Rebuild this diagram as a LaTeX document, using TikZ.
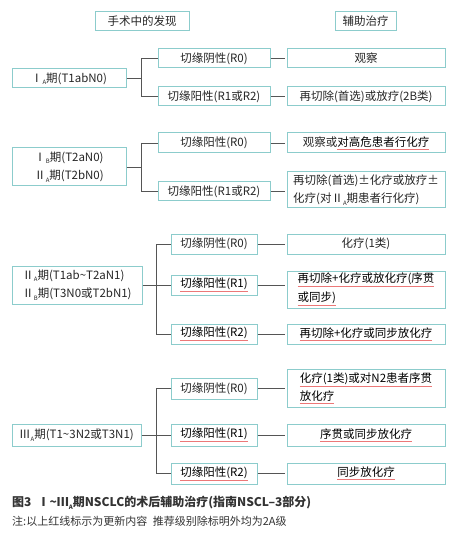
\documentclass[tikz,border=0pt]{standalone}
\usepackage{fontspec}
\setmainfont{Noto Sans CJK SC}
\usepackage{tikz}

\definecolor{boxedge}{RGB}{140,204,204}
\definecolor{linkgray}{RGB}{85,85,85}
\definecolor{redmark}{RGB}{236,120,120}
\newcommand{\stsub}[1]{\raisebox{-0.4ex}{\fontsize{6}{6}\selectfont #1}}
\newcommand{\redul}[1]{{\color{redmark}\underline{\color{black}#1}}}

\begin{document}
\begin{tikzpicture}[x=1pt,y=-1pt,
  card/.style={draw=boxedge,line width=1pt,fill=white,inner sep=2pt,
    font=\fontsize{11.5}{18.5}\selectfont,text=black!85},
  head/.style={card,minimum height=19pt},
  stage/.style={card,minimum height=19pt},
  margin/.style={card,minimum width=112pt,minimum height=19pt},
  marginb/.style={card,minimum width=86pt,minimum height=20pt},
  therapy/.style={card,minimum width=158pt,minimum height=19pt},
  therapyl/.style={therapy,align=left},
  link/.style={draw=linkgray,line width=0.9pt}]
  \useasboundingbox (0,0) rectangle (461,534);

  % headings
  \node[head,minimum width=94pt] (h1) at (142,21.5) {手术中的发现};
  \node[head,minimum width=61pt] (h2) at (365.5,21.5) {辅助治疗};

  % stage IA
  \node[stage,minimum width=114pt] (s1) at (69,78.5) {Ⅰ\stsub{A}期(T1abN0)};
  \node[margin] (m1a) at (214,58.5) {切缘阴性(R0)};
  \node[margin] (m1b) at (214,96.5) {切缘阳性(R1或R2)};
  \node[therapy] (t1a) at (366,58.5) {观察};
  \node[therapy] (t1b) at (366,96.5) {再切除(首选)或放疗(2B类)};
  \coordinate (k1) at (141,78.5);

  % stage IB / IIA
  \node[stage,minimum width=114pt,minimum height=38pt,align=center] (s2) at (69,167)
    {Ⅰ\stsub{B}期(T2aN0)\\Ⅱ\stsub{A}期(T2bN0)};
  \node[margin,minimum height=20pt] (m2a) at (214,143) {切缘阳性(R0)};
  \node[margin] (m2b) at (214,191.5) {切缘阳性(R1或R2)};
  \node[therapy,minimum height=20pt] (t2a) at (366,143) {观察或\redul{对高危患者行化疗}};
  \node[therapyl,minimum height=36pt] (t2b) at (366,190)
    {再切除(首选)±化疗或放疗±\\化疗(对Ⅱ\stsub{A}期患者行化疗)};
  \coordinate (k2) at (141,167);

  % stage IIA / IIB
  \node[stage,minimum width=130pt,minimum height=38pt,align=left] (s3) at (77,285)
    {Ⅱ\stsub{A}期(T1ab\textasciitilde T2aN1)\\Ⅱ\stsub{B}期(T3N0或T2bN1)};
  \node[marginb] (m3a) at (214,244) {切缘阴性(R0)};
  \node[marginb] (m3b) at (214,285) {\redul{切缘阳性(R1)}};
  \node[marginb] (m3c) at (214,334) {\redul{切缘阳性(R2)}};
  \node[therapy,minimum height=20pt] (t3a) at (366,244) {化疗(1类)};
  \node[therapyl,minimum height=37pt] (t3b) at (366,289.5)
    {\redul{再切除+化疗或放化疗(序贯}\\\redul{或同步)}\hspace{88pt}};
  \node[therapy,minimum height=20pt] (t3c) at (366,334) {\redul{再切除+化疗或同步放化疗}};
  \coordinate (k3) at (156,285);

  % stage IIIA
  \node[stage,minimum width=129pt,minimum height=22pt] (s4) at (76.5,435)
    {Ⅲ\stsub{A}期(T1\textasciitilde 3N2或T3N1)};
  \node[marginb,minimum height=21pt] (m4a) at (214,388.5) {切缘阴性(R0)};
  \node[marginb,minimum height=22pt] (m4b) at (214,435) {\redul{切缘阳性(R1)}};
  \node[marginb,minimum height=21pt] (m4c) at (214,473.5) {\redul{切缘阳性(R2)}};
  \node[therapyl,minimum height=38pt] (t4a) at (366,388)
    {\redul{化疗(1类)或对N2患者序贯}\\\redul{放化疗}};
  \node[therapy,minimum height=22pt] (t4b) at (366,435) {\redul{序贯或同步放化疗}};
  \node[therapy,minimum height=21pt] (t4c) at (366,473.5) {\redul{同步放化疗}};
  \coordinate (k4) at (156,435);

  % connectors
  \foreach \s/\k/\a/\b in {s1/k1/m1a/m1b,s2/k2/m2a/m2b,s4/k4/m4a/m4c,s3/k3/m3a/m3c}{
    \path[link] (\s.east) -- (\k) (\k |- \a.west) -- (\k |- \b.west)
      (\k |- \a.west) -- (\a.west) (\k |- \b.west) -- (\b.west);
  }
  \path[link] (k3) -- (m3b.west);
  \path[link] (k4) -- (m4b.west);
  \foreach \m/\t in {m1a/t1a,m1b/t1b,m2a/t2a,m2b/t2b,m3a/t3a,m3b/t3b,m3c/t3c,m4a/t4a,m4b/t4b,m4c/t4c}{
    \path[link] (\m.east) -- ([xshift=-2pt]\m.east -| \t.west);
  }

  % caption
  \node[anchor=west,inner sep=0pt,font=\bfseries\fontsize{12}{14}\selectfont,text=black!80] (cap) at (12,503)
    {图3\enspace Ⅰ\textasciitilde Ⅲ\stsub{A}期NSCLC的术后辅助治疗(指南NSCL–3部分)};
  \node[anchor=west,inner sep=0pt,font=\fontsize{11}{13}\selectfont,text=black!80] (note) at (12,521)
    {注:以上红线标示为更新内容\enspace 推荐级别除标明外均为2A级};
\end{tikzpicture}
\end{document}
